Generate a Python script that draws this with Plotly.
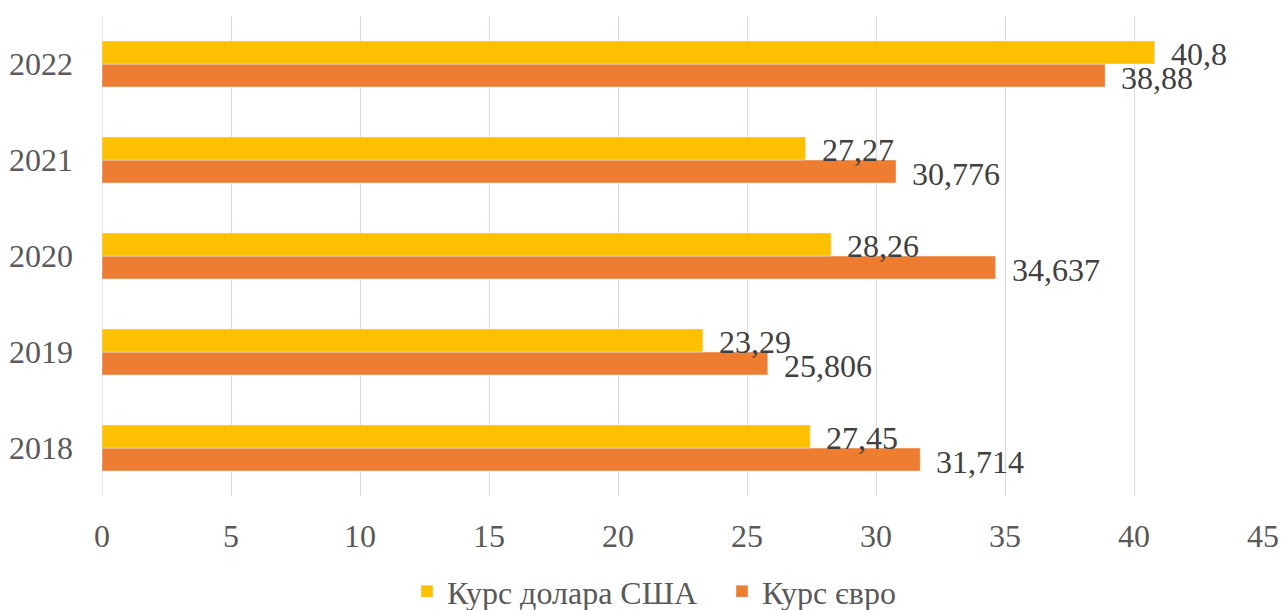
import plotly.graph_objects as go

years = ["2018", "2019", "2020", "2021", "2022"]
usd_rate = [27.45, 23.29, 28.26, 27.27, 40.8]
eur_rate = [31.714, 25.806, 34.637, 30.776, 38.88]
x_ticks = [0, 5, 10, 15, 20, 25, 30, 35, 40, 45]

FONT = "Liberation Serif, Times New Roman, serif"
SIZE = 32
LABEL_COLOR = "#404040"
TICK_COLOR = "#595959"


def fmt(v):
    # decimal comma
    return f"{v:g}".replace(".", ",")


fig = go.Figure()
# horizontal grouped bars: the first trace sits lower in each group
fig.add_trace(go.Bar(
    y=years, x=eur_rate, orientation="h", name="Курс євро",
    marker=dict(color="#ED7D31"), legendrank=2,
))
fig.add_trace(go.Bar(
    y=years, x=usd_rate, orientation="h", name="Курс долара США",
    marker=dict(color="#FFC000"), legendrank=1,
))

# value labels just past the end of each bar (y given as category index)
annotations = []
for idx, (u, e) in enumerate(zip(usd_rate, eur_rate)):
    for val, dy in ((u, 10), (e, -14)):
        annotations.append(dict(
            x=val, y=idx, xref="x", yref="y", text=fmt(val), showarrow=False,
            xanchor="left", yanchor="middle", xshift=14, yshift=dy,
            font=dict(family=FONT, size=SIZE, color=LABEL_COLOR),
        ))

fig.update_layout(
    width=1282, height=610,
    margin=dict(l=102, r=19, t=16, b=114, autoexpand=False),
    paper_bgcolor="white", plot_bgcolor="white",
    barmode="group", bargap=0.52, bargroupgap=0,
    font=dict(family=FONT, size=SIZE, color=TICK_COLOR),
    showlegend=True,
    legend=dict(orientation="h", x=0.534, xanchor="center", y=-0.256, yanchor="bottom",
                font=dict(family=FONT, size=SIZE, color=TICK_COLOR),
                itemwidth=30, tracegroupgap=0, entrywidth=270),
    annotations=annotations,
)
fig.update_xaxes(
    range=[0, 45], tickvals=x_ticks, showgrid=True, gridcolor="#D9D9D9", gridwidth=1,
    zeroline=False, showline=False, ticks="", ticklabelstandoff=18, automargin=False,
    tickfont=dict(family=FONT, size=SIZE, color=TICK_COLOR),
)
fig.update_yaxes(
    type="category", categoryorder="array", categoryarray=years,
    range=[-0.5, len(years) - 0.5],
    showgrid=False, zeroline=False, showline=False, ticks="", ticklabelstandoff=28,
    automargin=False,
    tickfont=dict(family=FONT, size=SIZE, color=TICK_COLOR),
)
# vertical line at zero drawn as part of the grid
fig.add_shape(type="line", xref="x", yref="paper", x0=0, x1=0, y0=0, y1=1,
              line=dict(color="#D9D9D9", width=1), layer="below")

fig.write_html("out.html")
